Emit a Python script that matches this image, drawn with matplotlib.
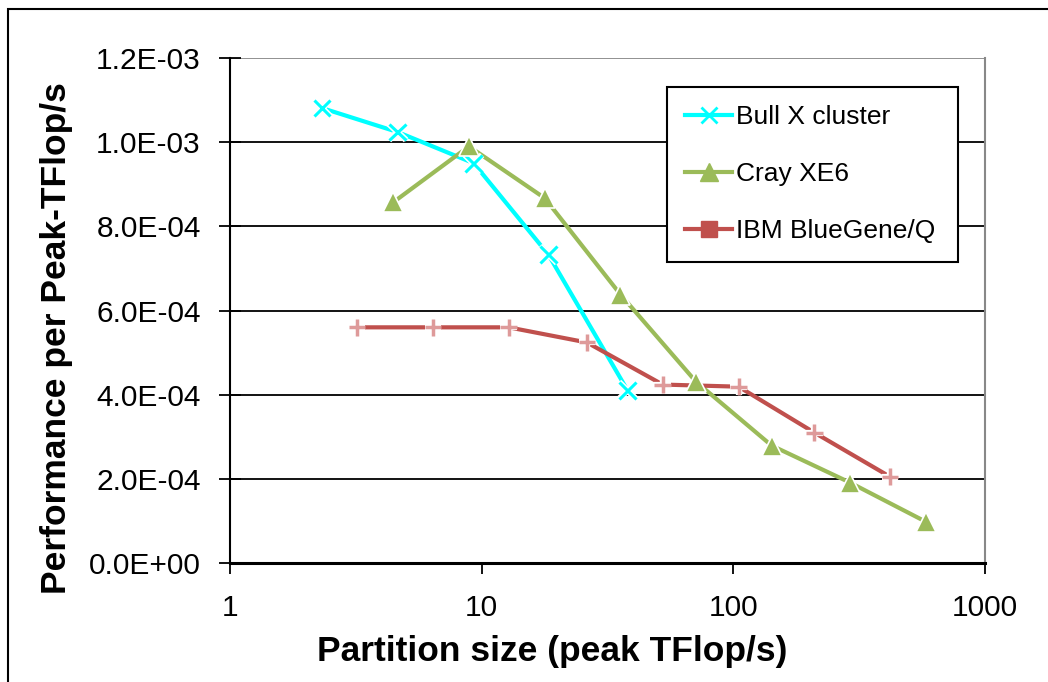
import matplotlib
matplotlib.use("Agg")
import matplotlib.pyplot as plt
import matplotlib.patheffects as pe
from matplotlib.lines import Line2D
from matplotlib.patches import Rectangle
from matplotlib.ticker import FixedLocator, FixedFormatter

plt.rcParams['font.family'] = ['Liberation Sans', 'DejaVu Sans']

bull_x = [2.32, 4.64, 9.3, 18.4, 38.0]
bull_y = [1.081e-3, 1.024e-3, 0.950e-3, 7.33e-4, 4.10e-4]

cray_x = [4.45, 8.9, 17.8, 35.6, 71.0, 142.0, 291.0, 582.0]
cray_y = [8.57e-4, 9.90e-4, 8.67e-4, 6.38e-4, 4.31e-4, 2.79e-4, 1.91e-4, 0.98e-4]

ibm_x = [3.2, 6.4, 12.8, 26.2, 52.4, 104.9, 209.7, 419.4]
ibm_y = [5.60e-4, 5.60e-4, 5.60e-4, 5.24e-4, 4.24e-4, 4.19e-4, 3.10e-4, 2.05e-4]

labels = ["Bull X cluster", "Cray XE6", "IBM BlueGene/Q"]
yticks = [0.0, 2e-4, 4e-4, 6e-4, 8e-4, 1.0e-3, 1.2e-3]
ytick_labels = ["0.0E+00", "2.0E-04", "4.0E-04", "6.0E-04", "8.0E-04", "1.0E-03", "1.2E-03"]
xticks = [1, 10, 100, 1000]
xtick_labels = ["1", "10", "100", "1000"]

c_bull = "#00FFFF"
c_cray = "#9BBB59"
c_ibm = "#C0504D"
c_ibm_mk = "#DE9A9A"

W, H = 1048, 682
fig = plt.figure(figsize=(W / 100, H / 100), dpi=100)
ax = fig.add_axes([230 / W, 1 - 563 / H, (985 - 230) / W, (563 - 58) / H])

# figure border (cropped at right/bottom)
fig.patches.append(Rectangle((7.5 / W, -0.1), 1.2, 1 - 8.5 / H + 0.1, transform=fig.transFigure,
                             fill=False, edgecolor="black", linewidth=1.5, zorder=0))

ax.set_xscale("log")
ax.set_xlim(1, 1000)
ax.set_ylim(0, 1.2e-3)

halo = [pe.Stroke(linewidth=4.5, foreground="white"), pe.Normal()]

ax.plot(bull_x, bull_y, color=c_bull, lw=3, zorder=3, solid_joinstyle="round")
ax.plot(bull_x, bull_y, ls="none", marker="x", ms=12, mew=2.2, color=c_bull, zorder=4,
        path_effects=halo)

ax.plot(cray_x, cray_y, color=c_cray, lw=3, zorder=3, solid_joinstyle="round")
ax.plot(cray_x, cray_y, ls="none", marker="^", ms=14, mfc=c_cray, mec="white", mew=1.2, zorder=4)

ax.plot(ibm_x, ibm_y, color=c_ibm, lw=3, zorder=3, solid_joinstyle="round")
ax.plot(ibm_x, ibm_y, ls="none", marker="+", ms=12, mew=2.5, color=c_ibm_mk, zorder=4,
        path_effects=halo)

ax.yaxis.set_major_locator(FixedLocator(yticks))
ax.yaxis.set_major_formatter(FixedFormatter(ytick_labels))
ax.xaxis.set_major_locator(FixedLocator(xticks))
ax.xaxis.set_major_formatter(FixedFormatter(xtick_labels))
ax.xaxis.set_minor_locator(FixedLocator([]))

for y in yticks[1:-1]:
    ax.axhline(y, color="black", lw=1.3, zorder=1)
ax.axhline(yticks[-1], color="#888888", lw=1.3, zorder=1)

ax.spines["left"].set_linewidth(1.5)
ax.spines["bottom"].set_linewidth(2.2)
ax.spines["top"].set_visible(False)
ax.spines["right"].set_color("#888888")
ax.spines["right"].set_linewidth(1.5)

ax.tick_params(axis="y", direction="inout", length=16, width=1.3, pad=13, labelsize=21.5)
ax.tick_params(axis="x", direction="out", length=8, width=1.3, pad=14, labelsize=21.5)

fig.text(552 / W, 1 - 652 / H, "Partition size (peak TFlop/s)", ha="center", va="center",
         fontsize=25.5, fontweight="bold")
fig.text(57 / W, 1 - 338 / H, "Performance per Peak-TFlop/s", ha="center", va="center",
         rotation=90, fontsize=25.5, fontweight="bold")

handles = [
    Line2D([], [], color=c_bull, lw=3, marker="x", ms=12, mew=2),
    Line2D([], [], color=c_cray, lw=3, marker="^", ms=13, mec=c_cray),
    Line2D([], [], color=c_ibm, lw=3, marker="s", ms=11, mec=c_ibm),
]
leg = fig.legend(handles, labels, loc="upper left",
                 bbox_to_anchor=(667 / W, 1 - 87 / H - 0.01, (958 - 667) / W, 0.01), mode="expand",
                 fontsize=19, frameon=True, fancybox=False, edgecolor="black",
                 framealpha=1, handlelength=1.75, handletextpad=0.15, labelspacing=1.25,
                 borderpad=0.7, borderaxespad=0)
leg.get_frame().set_linewidth(1.5)

fig.savefig("out.png", dpi=100)
